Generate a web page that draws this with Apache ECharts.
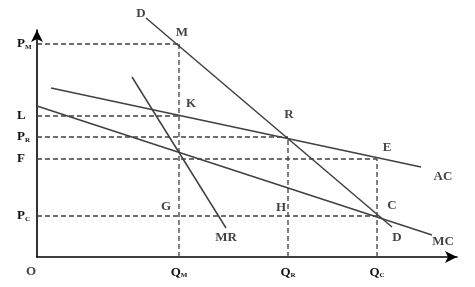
<!DOCTYPE html>
<html><head><meta charset="utf-8">
<script src="https://cdn.jsdelivr.net/npm/echarts@6/dist/echarts.min.js"></script>
<style>html,body{margin:0;padding:0;background:#fff}#c{width:475px;height:287px}</style>
</head><body><div id="c"></div>
<script>
// ---- data (units on the chart's own scales) ----
const qTickValues = [142, 251, 340];
const qTickLabels = [['Q','M'], ['Q','R'], ['Q','C']];
const pTickValues = [213, 141, 120, 98, 41];
const pTickLabels = [['P','M'], ['L',''], ['P','R'], ['F',''], ['P','C']];

const curveD  = [[109, 239], [355, 30]];
const curveAC = [[14, 169], [384, 90]];
const curveMC = [[0, 151], [395, 22]];
const curveMR = [[95, 180], [189, 29]];

const pointNames = ['M', 'K', 'R', 'E', 'C', 'H', 'G'];
const pointX     = [142, 142, 251, 340, 340, 251, 142];
const pointY     = [213, 141, 120, 98, 41, 41, 41];

const curveNames = ['D', 'D', 'AC', 'MC', 'MR', 'O'];
const curveAnchors = [curveD[0], curveD[1], curveAC[1], curveMC[1], curveMR[1], [0, 0]];

// ---- styles ----
const FONT = '"Liberation Serif", "DejaVu Serif", serif';
const INK = '#111';
const LINE = '#404040';
const pointOffsets = { M:[3,-11], K:[12,-12], R:[1,-22], E:[10,-11], C:[15,-10], H:[-7,-8], G:[-13,-9] };
const curveOffsets = [[-5,-4], [5,11], [22,10], [11,7], [0,10], [-6,15]];

const rich = {
  p: { fontSize: 13, fontWeight: 'bold', fontFamily: FONT, color: INK },
  s: { fontSize: 7, fontWeight: 'bold', fontFamily: FONT, color: INK, padding: [6, 0, 0, 0] }
};
function tickFmt(values, labels) {
  return function (v) {
    const i = values.indexOf(v);
    if (i < 0) return '';
    const l = labels[i];
    return '{p|' + l[0] + '}' + (l[1] ? '{s|' + l[1] + '}' : '');
  };
}

// dashed guide lines built from the points
function hGuide(i) { return [[0, pointY[i]], [pointX[i], pointY[i]]]; }
function vGuide(i) { return [[pointX[i], 0], [pointX[i], pointY[i]]]; }
const guides = [
  hGuide(0), vGuide(0),   // PM, QM through M
  hGuide(1),              // L through K
  hGuide(2), vGuide(2),   // PR, QR through R
  hGuide(3), vGuide(3),   // F, QC through E
  hGuide(4)               // PC through C
];

const series = [];
[curveD, curveAC, curveMC, curveMR].forEach(function (c) {
  series.push({ type: 'line', data: c, symbol: 'none', clip: false, silent: true,
    lineStyle: { color: LINE, width: 1.5 } });
});
guides.forEach(function (g) {
  series.push({ type: 'line', data: g, symbol: 'none', clip: false, silent: true,
    lineStyle: { color: LINE, width: 1.3, type: [5, 3] } });
});
series.push({
  type: 'scatter', symbolSize: 1, clip: false, silent: true, itemStyle: { color: 'rgba(0,0,0,0)' },
  data: pointNames.map(function (n, i) { return { value: [pointX[i], pointY[i]], name: n,
    label: { offset: pointOffsets[n] } }; }),
  label: { show: true, position: 'inside', formatter: '{b}', fontSize: 13, fontWeight: 'bold',
    fontFamily: FONT, color: INK }
});
series.push({
  type: 'scatter', symbolSize: 1, clip: false, silent: true, itemStyle: { color: 'rgba(0,0,0,0)' },
  data: curveNames.map(function (n, i) { return { value: curveAnchors[i], name: n,
    label: { offset: curveOffsets[i] } }; }),
  label: { show: true, position: 'inside', formatter: '{b}', fontSize: 13, fontWeight: 'bold',
    fontFamily: FONT, color: INK }
});

const chart = echarts.init(document.getElementById('c'), null, { renderer: 'canvas' });
chart.setOption({
  animation: false,
  backgroundColor: '#fff',
  grid: { left: 37, right: 18, top: 30, bottom: 30 },
  xAxis: {
    type: 'value', min: 0, max: 420, splitLine: { show: false },
    axisLine: { lineStyle: { color: '#000', width: 1.6 }, symbol: ['none', 'arrow'], symbolSize: [9, 12] },
    axisTick: { show: false },
    axisLabel: { customValues: qTickValues, formatter: tickFmt(qTickValues, qTickLabels), rich: rich, margin: 9 }
  },
  yAxis: {
    type: 'value', min: 0, max: 227, splitLine: { show: false },
    axisLine: { lineStyle: { color: '#000', width: 1.6 }, symbol: ['none', 'arrow'], symbolSize: [9, 12] },
    axisTick: { show: false },
    axisLabel: { customValues: pTickValues, formatter: tickFmt(pTickValues, pTickLabels), rich: rich,
      margin: 20, align: 'left' }
  },
  series: series
});
</script></body></html>
